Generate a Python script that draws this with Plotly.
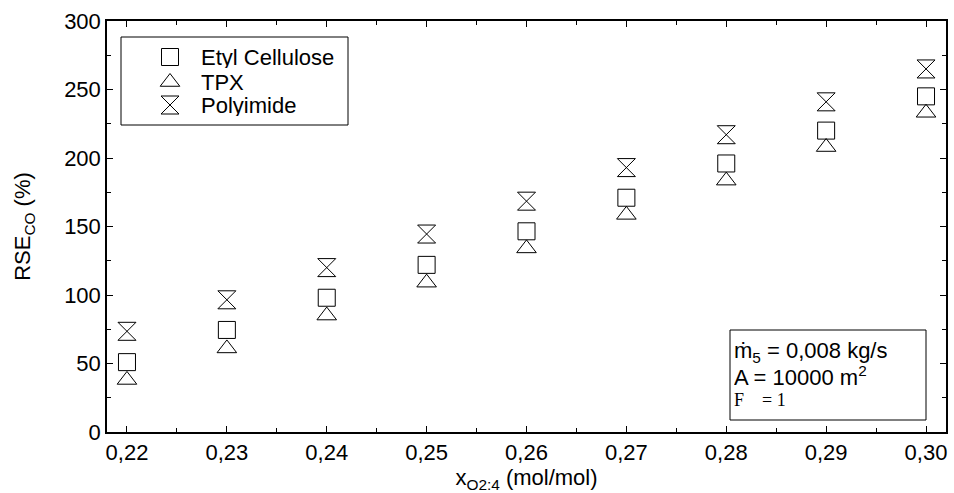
import plotly.graph_objects as go

x_vals = [0.22, 0.23, 0.24, 0.25, 0.26, 0.27, 0.28, 0.29, 0.30]
etyl_cellulose = [51, 74.5, 98, 122, 146.5, 171, 196, 220, 245]
tpx = [38, 61, 85, 109, 134, 158.5, 183.5, 208, 233]
polyimide = [73.5, 96.5, 120, 144.5, 168.5, 193, 217, 241, 265]
series_names = ["Etyl Cellulose", "TPX", "Polyimide"]

x_ticks = [0.22, 0.23, 0.24, 0.25, 0.26, 0.27, 0.28, 0.29, 0.30]
y_ticks = [0, 50, 100, 150, 200, 250, 300]

FONT = "Liberation Sans, Arial, sans-serif"
SERIF = "Liberation Serif, Times New Roman, serif"
L, R, T, B = 107, 8, 21, 61
W, H = 954, 493
PW, PH = W - L - R, H - T - B

def px(xp):
    return (xp - L) / PW

def py(yp):
    return (H - B - yp) / PH

markers = [
    dict(symbol="square-open", size=17),
    dict(symbol="triangle-up-open", size=17),
    dict(symbol="hourglass-open", size=18),
]
series_values = [etyl_cellulose, tpx, polyimide]

fig = go.Figure()
for name, vals, mk in zip(series_names, series_values, markers):
    fig.add_trace(go.Scatter(
        x=x_vals, y=vals, mode="markers", name=name, showlegend=False,
        marker=dict(symbol=mk["symbol"], size=mk["size"], color="black",
                    line=dict(width=1, color="black"))))

# manual legend (box, symbols on an overlay axis, text annotations)
legend_rows_px = [57, 82, 105]
fig.add_shape(type="rect", xref="paper", yref="paper",
              x0=px(121), x1=px(348), y0=py(125), y1=py(37),
              line=dict(color="black", width=1), fillcolor="white", layer="below")
for name, mk, ry in zip(series_names, markers, legend_rows_px):
    fig.add_trace(go.Scatter(
        x=[px(170)], y=[py(ry)], xaxis="x2", yaxis="y2", mode="markers",
        showlegend=False, hoverinfo="skip",
        marker=dict(symbol=mk["symbol"], size=mk["size"], color="black",
                    line=dict(width=1, color="black"))))
    fig.add_annotation(xref="paper", yref="paper", x=px(200), y=py(ry),
                       xanchor="left", yanchor="middle", text=name, showarrow=False,
                       height=22, valign="middle", borderpad=0,
                       font=dict(family=FONT, size=22, color="black"))

axis_common = dict(
    showline=True, linecolor="black", linewidth=1.5, mirror="ticks",
    ticks="inside", ticklen=6, tickwidth=1, tickcolor="black",
    showgrid=False, zeroline=False,
    tickfont=dict(family=FONT, size=22, color="black"),
)

fig.update_layout(
    xaxis=dict(
        range=[0.218, 0.302], tickvals=x_ticks, tickformat=".2f",
        minor=dict(dtick=0.005, ticks="inside", ticklen=4, tickcolor="black", showgrid=False),
        title=dict(text="x<sub>O2:4</sub> (mol/mol)", font=dict(family=FONT, size=22, color="black"), standoff=19),
        **axis_common,
    ),
    yaxis=dict(
        range=[0, 300], tickvals=y_ticks,
        minor=dict(dtick=25, ticks="inside", ticklen=4, tickcolor="black", showgrid=False),
        title=dict(text="RSE<sub>CO</sub> (%)", font=dict(family=FONT, size=22, color="black"), standoff=27),
        **axis_common,
    ),
    xaxis2=dict(overlaying="x", range=[0, 1], visible=False, fixedrange=True),
    yaxis2=dict(overlaying="y", range=[0, 1], visible=False, fixedrange=True),
)

fig.add_shape(type="rect", xref="paper", yref="paper",
              x0=px(730), x1=px(926), y0=py(420), y1=py(330),
              line=dict(color="black", width=1), fillcolor="white", layer="below")

ann_font = dict(family=FONT, size=22, color="black")
fig.add_annotation(xref="paper", yref="paper", x=px(733), y=py(352), xanchor="left", yanchor="middle",
                   text="ṁ<sub>5</sub> = 0,008 kg/s", showarrow=False, font=ann_font,
                   height=22, valign="middle", borderpad=0)
fig.add_annotation(xref="paper", yref="paper", x=px(733), y=py(376), xanchor="left", yanchor="middle",
                   text="A = 10000 m<sup>2</sup>", showarrow=False, font=ann_font,
                   height=22, valign="middle", borderpad=0)
fig.add_annotation(xref="paper", yref="paper", x=px(733), y=py(400), xanchor="left", yanchor="middle",
                   text="F\u00a0\u00a0\u00a0\u00a0= 1", showarrow=False, font=dict(family=SERIF, size=18, color="black"),
                   height=18, valign="middle", borderpad=0)

fig.update_layout(
    width=W, height=H,
    margin=dict(l=L, r=R, t=T, b=B, autoexpand=False),
    paper_bgcolor="white", plot_bgcolor="white",
    separators=", ",
    showlegend=False,
)

fig.write_html("out.html")
